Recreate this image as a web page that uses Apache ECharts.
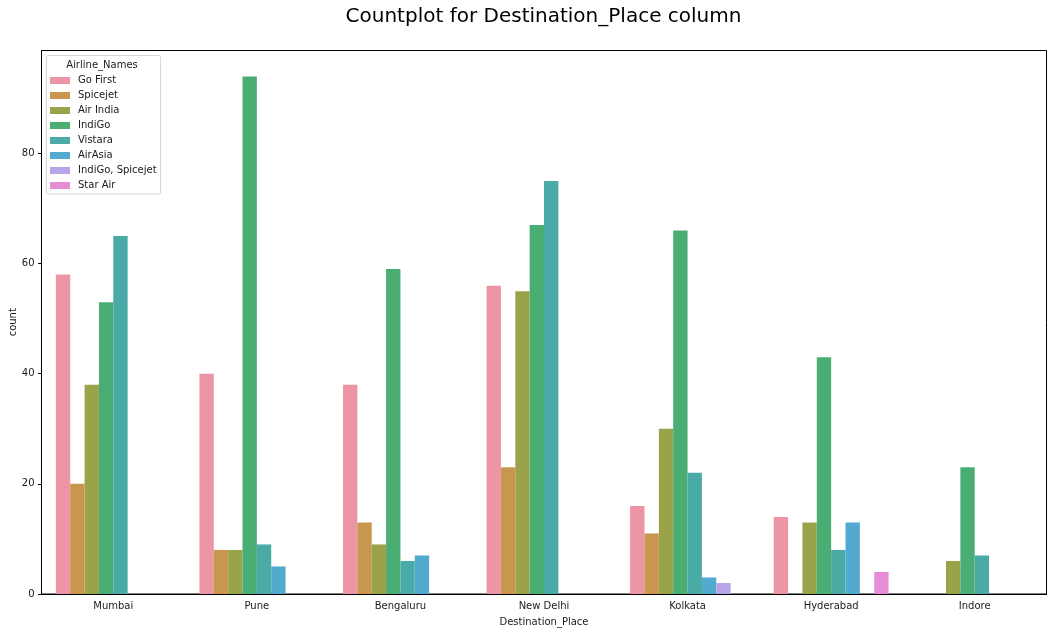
<!DOCTYPE html>
<html><head><meta charset="utf-8"><style>html,body{margin:0;padding:0;background:#fff}#c{width:1052px;height:633px}</style>
<script src="https://cdn.jsdelivr.net/npm/echarts@6/dist/echarts.min.js"></script></head><body><div id="c"></div><script>
const categories=['Mumbai','Pune','Bengaluru','New Delhi','Kolkata','Hyderabad','Indore'];
const airlines=['Go First','Spicejet','Air India','IndiGo','Vistara','AirAsia','IndiGo, Spicejet','Star Air'];
const colors=['#eb95a5','#c9964f','#9aa34a','#4aae74','#4aaaa5','#52aacf','#b8a5e8','#e68dd7'];
const goFirst=[58,40,38,56,16,14,null];
const spicejet=[20,8,13,23,11,null,null];
const airIndia=[38,8,9,55,30,13,6];
const indigo=[53,94,59,67,66,43,23];
const vistara=[65,9,6,75,22,8,7];
const airAsia=[null,5,7,null,3,13,null];
const indigoSpicejet=[null,null,null,null,2,null,null];
const starAir=[null,null,null,null,null,4,null];
const values=[goFirst,spicejet,airIndia,indigo,vistara,airAsia,indigoSpicejet,starAir];
const font='"DejaVu Sans"';
const ink='#1a1a1a';
const chart=echarts.init(document.getElementById('c'),null,{renderer:'canvas'});
chart.setOption({
animation:false,backgroundColor:'#fff',color:colors,
title:[
 {text:'Countplot for Destination_Place column',left:538.5,top:2,textAlign:'center',textStyle:{fontFamily:font,fontSize:20,fontWeight:'normal',color:'#000'}},
 {text:'Airline_Names',left:97,top:55.5,textAlign:'center',textStyle:{fontFamily:font,fontSize:10,fontWeight:'normal',color:ink}}
],
legend:{show:true,orient:'vertical',left:46.5,top:55.5,padding:[19,4,2.5,3.5],itemGap:3,itemWidth:20,itemHeight:7,icon:'rect',
 backgroundColor:'#fff',borderColor:'#d6d6d6',borderWidth:1,borderRadius:2,selectedMode:false,
 textStyle:{fontFamily:font,fontSize:10,color:ink,padding:[0,0,0,3],lineHeight:12},data:airlines},
grid:{left:41.5,right:5.5,top:50.5,bottom:39,show:true,borderColor:'#000',borderWidth:1,outerBoundsMode:'none'},
xAxis:{type:'category',data:categories,name:'Destination_Place',nameLocation:'middle',nameGap:23,nameMoveOverlap:false,nameTextStyle:{fontFamily:font,fontSize:10,color:ink},
 axisLine:{lineStyle:{color:'#000'}},axisTick:{alignWithLabel:true,length:3.5,lineStyle:{color:'#000'}},axisLabel:{fontFamily:font,fontSize:10,color:ink,margin:7},splitLine:{show:false}},
yAxis:{type:'value',min:0,max:98.7,interval:20,name:'count',nameLocation:'middle',nameGap:23,nameMoveOverlap:false,nameTextStyle:{fontFamily:font,fontSize:10,color:ink},
 axisLine:{show:true,lineStyle:{color:'#000'}},axisTick:{show:true,length:3.5,lineStyle:{color:'#000'}},axisLabel:{fontFamily:font,fontSize:10,color:ink,margin:7,showMaxLabel:false},splitLine:{show:false}},
series:airlines.map((n,i)=>({name:n,type:'bar',data:values[i],barWidth:'10%',barGap:'0%',itemStyle:{color:colors[i]}}))
});
</script></body></html>
